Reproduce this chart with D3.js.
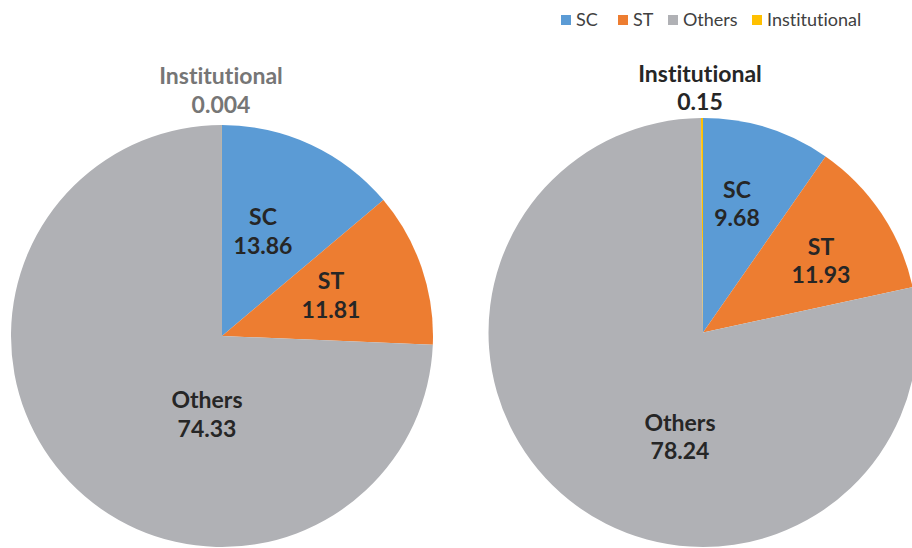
<!DOCTYPE html>
<html>
<head>
<meta charset="utf-8">
<script src="https://cdn.jsdelivr.net/npm/d3@7"></script>
<style>
  body { margin: 0; background: #fff; }
  svg { display: block; font-family: Lato, "Open Sans", sans-serif; font-variant-ligatures: none; }
</style>
</head>
<body>
<svg id="chart"></svg>
<script>
// categories and values (clockwise from 12 o'clock)
const categories = ["SC", "ST", "Others", "Institutional"];
const leftValues = [13.86, 11.81, 74.33, 0.004];
const rightValues = [9.68, 11.93, 78.24, 0.15];
const colors = ["#5b9bd5", "#ed7d31", "#b0b1b5", "#ffc000"];

const width = 912, height = 548;
const svg = d3.select("#chart").attr("width", width).attr("height", height);

const color = d3.scaleOrdinal().domain(categories).range(colors);

// label placement (offsets from pie centre), like Excel's best-fit
const pies = [
  { values: leftValues, cx: 222, cy: 336, r: 211, instColor: "#767676",
    spots: { SC: [41, -105], ST: [109, -41], Others: [-15, 78], Institutional: [-1, -246] } },
  { values: rightValues, cx: 703, cy: 332.5, r: 214.5, instColor: "#262626",
    spots: { SC: [34, -129], ST: [118, -72], Others: [-23, 104], Institutional: [-3, -245] } }
];

const pie = d3.pie().sort(null).value(d => d.value);

pies.forEach(p => {
  const data = categories.map((c, i) => ({ name: c, value: p.values[i] }));
  const arc = d3.arc().innerRadius(0).outerRadius(p.r);
  const g = svg.append("g").attr("transform", `translate(${p.cx},${p.cy})`);

  g.selectAll("path")
    .data(pie(data))
    .join("path")
    .attr("d", arc)
    .attr("fill", d => color(d.data.name));

  const labels = g.selectAll("text.lbl")
    .data(data)
    .join("text")
    .attr("class", "lbl")
    .attr("text-anchor", "middle")
    .attr("font-size", 23)
    .attr("font-weight", "bold")
    .attr("fill", d => d.name === "Institutional" ? p.instColor : "#262626")
    .attr("transform", d => `translate(${p.spots[d.name][0]},${p.spots[d.name][1]})`);

  labels.append("tspan").attr("x", 0).attr("y", -6).text(d => d.name);
  labels.append("tspan").attr("x", 0).attr("y", 22.5).text(d => d.value);
});

// legend
const legendX = [561, 618, 668, 752];
const legend = svg.append("g").attr("font-size", 18).attr("fill", "#404040");
const items = legend.selectAll("g")
  .data(categories)
  .join("g")
  .attr("transform", (d, i) => `translate(${legendX[i]},15)`);
items.append("rect").attr("width", 10).attr("height", 10).attr("fill", d => color(d));
items.append("text").attr("x", 15).attr("y", 11).text(d => d);
</script>
</body>
</html>
